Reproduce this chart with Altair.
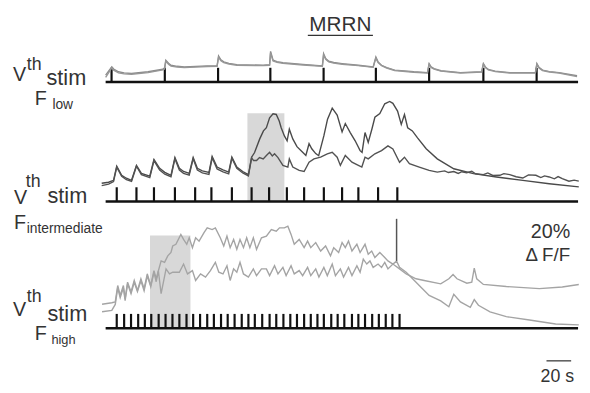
import altair as alt
import pandas as pd

# ---------------- data (time in s, dF/F in %) ----------------
# Panel 1: Vth stim, F low
p1_t = [0, 5.0, 6.5, 10.4, 15, 21, 34.4, 46.4, 47.8, 48.8, 51, 53, 58, 63.8, 82.4, 90.4, 91.6, 93.5, 95.8, 100,
        106.4, 127.8, 133.0, 133.8, 135.8, 139, 143.8, 160, 175.8, 176.8, 178.5, 181, 185, 191.8, 205, 217,
        219.2, 221, 223.8, 228, 234.4, 250, 261, 262.4, 264, 266.4, 272, 287.8, 305, 306.4, 308, 310.4, 316,
        327.8, 348.6, 349.8, 351.5, 354.4, 360, 367.8, 382.4]
p1_a = [0.3, 4.2, 3.2, 1.9, 1.4, 1.1, 1.9, 3.1, 3.6, 7.4, 6.0, 5.0, 4.5, 4.2, 4.7, 4.7, 9.4, 7.6, 6.6, 5.9,
        5.3, 5.0, 5.3, 11.6, 7.4, 6.7, 6.2, 5.4, 4.7, 10.5, 8.2, 6.9, 6.3, 5.8, 5.0, 4.2,
        8.9, 6.6, 5.0, 3.9, 2.7, 1.9, 1.5, 5.8, 4.2, 3.4, 2.4, 1.5, 1.9, 5.8, 4.2, 3.0, 2.2,
        1.5, 1.5, 5.8, 4.0, 2.7, 2.0, 1.5, 0.0]
p1_b = [-0.8, 3.8, 2.7, 1.4, 0.9, 0.7, 1.5, 2.8, 3.2, 6.9, 5.5, 4.6, 4.2, 3.9, 4.4, 4.5, 8.8, 7.1, 6.2, 5.6,
        5.0, 4.8, 5.0, 10.9, 7.0, 6.4, 5.9, 5.1, 4.5, 9.9, 7.8, 6.6, 6.0, 5.5, 4.8, 4.0,
        8.4, 6.3, 4.8, 3.7, 2.5, 1.7, 1.3, 5.4, 3.9, 3.2, 2.2, 1.3, 1.7, 5.5, 3.9, 2.8, 2.0,
        1.3, 1.3, 5.5, 3.7, 2.5, 1.8, 1.3, -0.4]
p1_stim = [4.8, 48.0, 91.2, 133.6, 176.8, 219.2, 262.4, 306.4, 349.6]

# Panel 2: Vth stim, F intermediate
p2_a_t = [-3.2, 2.4, 6.4, 9.0, 13.0, 16.8, 21.0, 25.0, 29.0, 35.8, 39.2, 43.8, 48.0, 53.0, 56.2, 59.8, 63.2,
          67.8, 71.0, 74.4, 78.4, 83.8, 86.4, 90.4, 95.2, 99.8, 102.4, 106.4, 111.2, 115.8, 118.4,
          120.8, 125.0, 128.0, 130.4, 133.0, 135.8, 138.4, 140.8, 142.4, 145.0, 147.2, 149.0, 151.8, 155.2,
          159.8, 162.4, 165.0, 167.2, 170.4, 172.8, 177.0, 180.0, 183.8, 187.8, 191.8, 194.4, 198.4, 202.4,
          206.4, 208.0, 210.4, 213.0, 216.0, 218.4, 222.4, 226.4, 230.4, 233.0, 236.8, 239.8, 242.4, 245.0,
          248.8, 253.0, 260.0, 269.0, 282.4, 298.4, 317.0, 338.4, 359.8, 383.8]
p2_a = [-1.1, -0.6, 0.3, 7.0, 2.7, 1.3, 0.3, 7.4, 3.6, 2.3, 10.2, 6.0, 4.1, 2.7, 11.1, 6.0, 4.5,
        3.6, 11.1, 6.0, 4.8, 4.1, 11.6, 6.6, 5.3, 4.2, 11.3, 6.6, 4.5, 3.0, 11.3,
        13.5, 20.0, 23.8, 25.3, 30.0, 31.9, 31.6, 28.5, 25.3, 21.4, 19.1, 24.6, 20.0, 16.3,
        13.6, 12.1, 17.7, 15.3, 13.0, 12.0, 21.4, 29.4, 34.6, 31.3, 23.3, 27.3, 23.0, 19.1,
        14.4, 13.6, 23.0, 18.3, 24.7, 30.3, 32.0, 36.7, 37.8, 36.9, 33.2, 26.9, 31.6, 25.3,
        23.8, 20.5, 15.3, 10.5, 5.8, 3.5, 1.9, 0.3, -1.3, -2.8]
p2_b_t = [-3.2, 2.4, 6.4, 9.0, 13.0, 16.8, 21.0, 25.0, 29.0, 35.8, 39.2, 43.8, 48.0, 53.0, 56.2, 59.8, 63.2,
          67.8, 71.0, 74.4, 78.4, 83.8, 86.4, 90.4, 95.2, 99.8, 102.4, 106.4, 111.2, 115.8, 118.4,
          120.0, 122.4, 124.8, 127.8, 130.4, 133.0, 135.2, 137.0, 139.8, 143.8, 147.8, 149.0, 151.8, 157.0,
          161.0, 165.0, 169.0, 174.4, 179.8, 183.8, 187.8, 190.4, 194.4, 199.8, 205.0, 207.8, 210.4, 213.0,
          218.4, 223.8, 229.0, 233.0, 238.4, 242.4, 246.4, 254.4, 262.4, 269.0, 275.0, 278.0, 282.4, 286.0,
          289.0, 292.8, 297.0, 300.0, 306.4, 310.0, 314.0, 319.8, 323.0, 327.8, 333.0, 338.4, 343.0, 349.0,
          353.0, 356.0, 359.8, 364.0, 367.0, 370.4, 375.8, 380.0, 383.8]
p2_b = [-2.2, -1.5, -0.3, 6.6, 2.2, 0.6, -0.2, 7.0, 3.0, 1.6, 9.7, 5.2, 3.2, 2.0, 10.6, 5.2, 3.6,
        2.8, 10.6, 5.2, 3.8, 3.1, 11.0, 5.7, 4.3, 3.4, 10.8, 6.0, 3.8, 2.4, 11.0,
        9.7, 9.7, 11.1, 10.5, 12.1, 13.6, 11.9, 12.9, 11.1, 7.4, 6.6, 10.5, 6.6, 5.0,
        4.5, 8.9, 10.5, 11.3, 12.9, 13.6, 11.3, 7.4, 12.1, 8.9, 7.4, 6.6, 11.3, 10.5,
        12.9, 14.4, 16.7, 15.2, 8.9, 11.3, 8.2, 6.6, 5.0, 4.2, 4.8, 4.0, 4.5, 3.6,
        4.4, 3.9, 4.6, 3.4, 3.0, 3.8, 2.6, 2.7, 3.5, 3.0, 2.0, 1.4, 2.9, 2.7,
        1.6, 2.4, 1.9, 1.0, 2.1, 1.1, -0.1, 0.4, -0.1]
p2_stim = [9.0, 25.0, 39.2, 56.2, 72.6, 85.8, 102.4, 118.4, 132.6, 147.0, 161.0, 177.0, 191.8, 205.0,
           221.0, 236.6]

# Panel 3: Vth stim, F high
p3_a_t = [-2.9, 5.0, 7.8, 9.8, 11.8, 14.4, 15.8, 17.8, 20.6, 23.2, 25.8, 28.6, 31.2, 33.8, 36.6, 39.2, 41.0,
          45.0, 47.8, 50.4, 53.0, 54.4, 57.0, 61.0, 63.2, 65.8, 67.8, 70.4, 73.0, 75.8, 79.8, 82.4, 86.4,
          89.0, 93.0, 95.8, 98.4, 101.0, 103.8, 106.4, 109.0, 111.8, 114.4, 117.0, 119.8, 122.4, 126.4,
          130.4, 134.4, 138.4, 141.0, 145.0, 147.8, 150.4, 153.0, 157.0, 161.0, 163.8, 166.4, 170.4, 174.4,
          178.4, 182.4, 185.0, 189.0, 191.8, 194.4, 197.0, 199.8, 203.8, 206.4, 210.4, 213.0, 215.8, 218.4,
          222.4, 226.4, 229.0, 233.0, 236.0, 238.4, 243.8, 250.4, 257.0, 262.4, 271.8, 278.4, 282.4, 287.8,
          295.8, 299.0, 302.4, 311.8, 325.0, 343.8, 365.0, 383.8]
p3_a = [1.4, 2.1, 2.5, 10.3, 5.6, 10.3, 4.1, 11.9, 7.2, 12.7, 8.0, 13.5, 8.8, 15.8, 10.3, 17.4, 13.5,
        22.0, 21.3, 24.4, 26.0, 29.1, 29.9, 34.6, 32.2, 29.9, 33.0, 28.3, 33.0, 31.4, 35.4, 37.7, 36.9,
        37.7, 33.0, 29.1, 33.8, 28.3, 32.2, 27.5, 32.2, 28.3, 33.0, 28.3, 33.0, 27.5, 33.0,
        33.8, 36.9, 36.1, 37.7, 37.7, 38.5, 34.6, 29.9, 32.2, 28.3, 31.4, 28.3, 30.7, 26.7,
        29.1, 24.4, 28.3, 26.0, 30.7, 28.3, 31.4, 26.7, 29.9, 26.0, 29.9, 25.2, 26.7, 23.6,
        26.0, 23.6, 22.0, 20.5, 21.9, 18.9, 16.6, 12.7, 8.8, 5.6, 3.0, 0.2, 6.1, 2.5,
        -0.1, 3.6, 0.9, -2.2, -4.5, -6.1, -8.0, -8.4]
p3_b_t = [-2.9, 5.0, 7.8, 9.8, 11.8, 14.4, 15.8, 17.8, 20.6, 23.2, 25.8, 28.6, 31.2, 33.8, 36.6, 39.2, 41.0,
          42.8, 45.0, 49.0, 51.8, 54.4, 59.8, 63.2, 66.4, 70.4, 73.0, 77.0, 81.0, 85.0, 89.0, 91.8, 95.2,
          98.4, 101.0, 103.8, 106.4, 109.0, 111.8, 115.8, 119.8, 122.4, 126.4, 130.4, 133.0, 137.0, 139.8,
          143.8, 146.4, 150.4, 153.0, 157.0, 159.8, 163.8, 166.4, 170.4, 173.0, 177.0, 179.8, 183.8, 186.4,
          190.4, 193.0, 197.0, 199.8, 203.8, 206.4, 209.0, 211.8, 214.4, 217.0, 221.0, 223.8, 226.4, 229.0,
          233.0, 238.4, 243.8, 251.8, 258.4, 271.8, 278.4, 281.8, 285.0, 293.0, 297.0, 299.0, 301.0, 306.4,
          325.0, 351.8, 370.4, 383.8]
p3_b = [-2.2, -1.5, 1.3, 9.2, 4.5, 9.2, 3.1, 11.1, 6.4, 11.8, 7.4, 12.5, 7.8, 14.9, 9.7, 16.7, 12.1,
        17.2, 6.4, 18.2, 15.8, 16.6, 16.6, 20.5, 15.8, 17.4, 12.7, 15.8, 14.3, 17.4, 21.3, 16.6, 15.8,
        19.7, 12.7, 18.2, 16.6, 21.3, 15.8, 14.3, 18.2, 15.0, 18.2, 18.2, 15.0, 19.7, 15.8,
        18.9, 15.0, 19.7, 15.8, 17.4, 15.0, 18.9, 15.0, 18.2, 14.3, 18.9, 15.0, 20.5, 15.0,
        18.2, 14.3, 18.9, 15.0, 19.7, 16.6, 22.8, 20.5, 22.0, 18.9, 20.5, 18.9, 21.3, 18.2,
        20.5, 18.2, 15.8, 13.5, 12.7, 11.1, 13.5, 15.5, 13.5, 11.4, 11.9, 18.6, 13.5, 10.8,
        9.8, 8.8, 9.6, 10.8]
p3_stim = [9.0, 15.0, 20.6, 26.4, 31.8, 37.0, 43.0, 48.6, 54.2, 59.8, 65.6, 71.0, 76.6, 82.4, 87.8, 93.6,
           99.0, 104.6, 110.4, 115.8, 121.0, 127.0, 133.0, 138.4, 144.2, 149.8, 155.2, 161.0, 166.4, 171.8,
           177.0, 183.0, 188.2, 193.6, 199.8, 205.0, 210.4, 216.2, 221.6, 227.2, 232.6, 238.4]

# shaded analysis windows (s)
p2_window = [115.0, 145.0]
p3_window = [36.0, 68.8]

# ---------------- layout constants ----------------
OFF = {"p1": 120.0, "p2": 70.0, "p3": 10.0}          # vertical stacking offsets (% units)
BASE = {"p1": -3.0, "p2": -9.75, "p3": -10.0}        # stimulus baseline (rel. to panel)
TOP = {"p1": 3.8, "p2": -3.0, "p3": -3.2}            # stimulus tick tops
WIN_TOP = {"p2": 32.2, "p3": 34.1}
TRACE_END = 383.2

XS = alt.Scale(domain=[-79.2, 386.4], nice=False, zero=False)
YS = alt.Scale(domain=[-29.54, 150.96], nice=False, zero=False)

series_colors = {"p1a": "#8a8a8a", "p1b": "#979797", "p2a": "#4a4a4a", "p2b": "#525252",
                 "p3a": "#a4a4a4", "p3b": "#a4a4a4"}

rows = []
def add(name, panel, ts, vs):
    for i, (t, v) in enumerate(zip(ts, vs)):
        rows.append({"t": t, "level": v + OFF[panel], "series": name, "i": i})

add("p1a", "p1", p1_t, p1_a)
add("p1b", "p1", p1_t, p1_b)
add("p2a", "p2", p2_a_t, p2_a)
add("p2b", "p2", p2_b_t, p2_b)
add("p3a", "p3", p3_a_t, p3_a)
add("p3b", "p3", p3_b_t, p3_b)
traces = pd.DataFrame(rows)

ticks = pd.DataFrame(
    [{"t": t, "y0": OFF[p] + BASE[p], "y1": OFF[p] + TOP[p]} for p, ss in
     (("p1", p1_stim), ("p2", p2_stim), ("p3", p3_stim)) for t in ss])
bases = pd.DataFrame([{"t0": 0.0, "t1": TRACE_END, "y": OFF[p] + BASE[p]} for p in ("p1", "p2", "p3")])
wins = pd.DataFrame([
    {"t0": p2_window[0], "t1": p2_window[1], "y0": OFF["p2"] + BASE["p2"], "y1": OFF["p2"] + WIN_TOP["p2"]},
    {"t0": p3_window[0], "t1": p3_window[1], "y0": OFF["p3"] + BASE["p3"], "y1": OFF["p3"] + WIN_TOP["p3"]},
])

rect_layer = alt.Chart(wins).mark_rect(color="#d8d8d8").encode(
    x=alt.X("t0:Q", scale=XS, axis=None), x2="t1:Q",
    y=alt.Y("y0:Q", scale=YS, axis=None), y2="y1:Q")

base_layer = alt.Chart(bases).mark_rule(color="#111111", strokeWidth=2.6).encode(
    x=alt.X("t0:Q", scale=XS, axis=None), x2="t1:Q",
    y=alt.Y("y:Q", scale=YS, axis=None))

tick_layer = alt.Chart(ticks).mark_rule(color="#111111", strokeWidth=2.2).encode(
    x=alt.X("t:Q", scale=XS, axis=None),
    y=alt.Y("y0:Q", scale=YS, axis=None), y2="y1:Q")

line_layer = alt.Chart(traces).mark_line(strokeWidth=1.4).encode(
    x=alt.X("t:Q", scale=XS, axis=None),
    y=alt.Y("level:Q", scale=YS, axis=None),
    color=alt.Color("series:N", legend=None,
                    scale=alt.Scale(domain=list(series_colors), range=list(series_colors.values()))),
    detail="series:N",
    order="i:Q")

# scale bars: 20 % dF/F and 20 s
SB_T = 236.0
sb_v = pd.DataFrame([{"t": SB_T, "y0": OFF["p3"] + 22.0, "y1": OFF["p3"] + 42.0}])
sb_v_layer = alt.Chart(sb_v).mark_rule(color="#555555", strokeWidth=1.5).encode(
    x=alt.X("t:Q", scale=XS, axis=None), y=alt.Y("y0:Q", scale=YS, axis=None), y2="y1:Q")
sb_h = pd.DataFrame([{"t0": 357.6, "t1": 377.6, "y": -15.5}])
sb_h_layer = alt.Chart(sb_h).mark_rule(color="#555555", strokeWidth=1.5).encode(
    x=alt.X("t0:Q", scale=XS, axis=None), x2="t1:Q", y=alt.Y("y:Q", scale=YS, axis=None))

dummy = pd.DataFrame({"a": [0]})
FONT = "Liberation Sans"
TXT = "#333333"

def txt(s, x, y, size, align="left"):
    return alt.Chart(dummy).mark_text(text=s, font=FONT, fontSize=size, color=TXT, align=align,
                                      baseline="alphabetic").encode(
        x=alt.value(x - 8), y=alt.value(y - 8))

texts = [
    txt("MRRN", 345, 29, 21, "center"),
    # panel 1
    txt("V", 13, 79, 20), txt("th", 27, 68, 18), txt("stim", 47, 83, 22),
    txt("F", 35, 104, 20), txt("low", 53, 108, 14),
    # panel 2
    txt("V", 14, 204, 20), txt("th", 26, 187, 18), txt("stim", 48, 203, 22),
    txt("F", 14, 229, 20), txt("intermediate", 27, 233, 14),
    # panel 3
    txt("V", 13, 318, 20), txt("th", 27, 303, 18), txt("stim", 48, 323, 22),
    txt("F", 35, 342, 20), txt("high", 52, 346, 13),
    # scale bars
    txt("20%", 578, 239, 20, "right"), txt("\u0394 F/F", 578, 262, 19, "right"),
    txt("20 s", 565, 385, 18, "center"),
]
underline = alt.Chart(dummy).mark_rule(color=TXT, strokeWidth=1.3).encode(
    x=alt.value(312 - 8), x2=alt.value(378 - 8), y=alt.value(33 - 8))

chart = alt.layer(rect_layer, base_layer, tick_layer, line_layer, sb_v_layer, sb_h_layer,
                  underline, *texts).properties(
    width=582, height=385, padding=0,
    autosize=alt.AutoSizeParams(type="none"),
).configure_view(stroke=None)

chart.save("out.html", embed_options={"renderer": "svg", "actions": False})
